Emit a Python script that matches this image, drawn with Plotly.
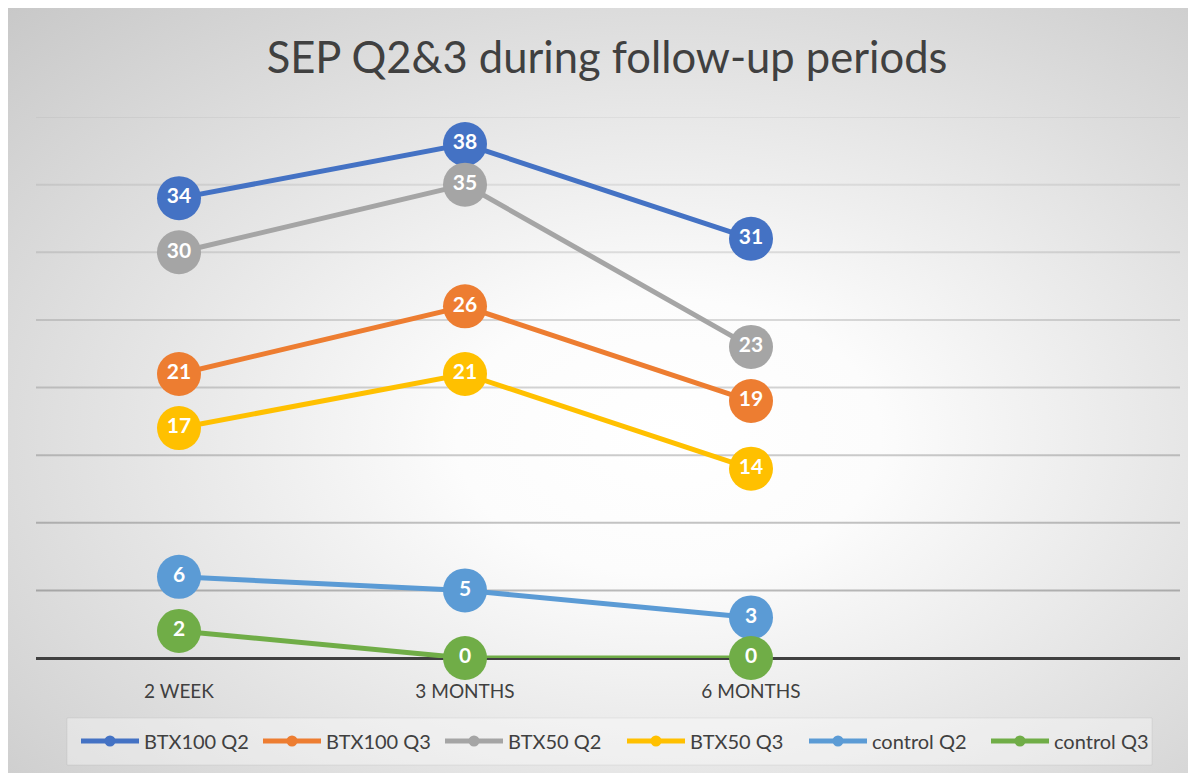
import base64
import plotly.graph_objects as go

# ---- data ----
categories = ["2 WEEK", "3 MONTHS", "6 MONTHS"]
series_names = ["BTX100 Q2", "BTX100 Q3", "BTX50 Q2", "BTX50 Q3", "control Q2", "control Q3"]
btx100_q2 = [34, 38, 31]
btx100_q3 = [21, 26, 19]
btx50_q2 = [30, 35, 23]
btx50_q3 = [17, 21, 14]
control_q2 = [6, 5, 3]
control_q3 = [2, 0, 0]
grid_values = [5, 10, 15, 20, 25, 30, 35, 40]
title_text = "SEP Q2&3 during follow-up periods"

series_values = [btx100_q2, btx100_q3, btx50_q2, btx50_q3, control_q2, control_q3]
colors = ["#4472C4", "#ED7D31", "#A5A5A5", "#FFC000", "#5B9BD5", "#70AD47"]

# page has an 8px body margin; figure origin sits at (8, 8) of the window
OFF = 8
W, H = 1196 - OFF, 773 - OFF
L, T = 36 - OFF, 117 - OFF
R = W - (1180 - OFF)
B = H - (658 - OFF)
PW, PH = W - L - R, H - T - B

def px_x(p):  # window pixel -> paper x
    return (p - OFF - L) / PW

def px_y(q):  # window pixel -> paper y
    return (H - B - (q - OFF)) / PH

fig = go.Figure()

for name, vals, col in zip(series_names, series_values, colors):
    fig.add_trace(go.Scatter(
        x=categories, y=vals, mode="lines+markers+text", name=name,
        line=dict(color=col, width=5),
        marker=dict(size=44, color=col),
        text=[str(v) for v in vals], textposition="middle center",
        textfont=dict(family="Lato", size=21, color="white", weight="bold"),
        showlegend=False, hoverinfo="skip", cliponaxis=False,
    ))

# legend entries
for name, col in zip(series_names, colors):
    fig.add_trace(go.Scatter(
        x=[None], y=[None], mode="lines+markers", name=name,
        line=dict(color=col, width=5), marker=dict(size=11, color=col),
        showlegend=True,
    ))

# background radial gradient
svg = """<svg xmlns='http://www.w3.org/2000/svg' width='1200' height='800' viewBox='0 0 1200 800' preserveAspectRatio='none'>
<defs><radialGradient id='g' cx='0.55' cy='0.55' r='0.8' gradientUnits='objectBoundingBox'>
<stop offset='0' stop-color='#ffffff'/><stop offset='0.22' stop-color='#fcfcfc'/>
<stop offset='1' stop-color='#c6c6c6'/></radialGradient></defs>
<rect x='0' y='0' width='1200' height='800' fill='url(#g)'/></svg>"""
uri = "data:image/svg+xml;base64," + base64.b64encode(svg.encode()).decode()

fig.add_layout_image(dict(
    source=uri, xref="paper", yref="paper",
    x=px_x(7), y=px_y(6), sizex=(1210 - 7) / PW, sizey=(790 - 6) / PH,
    xanchor="left", yanchor="top", sizing="stretch", layer="below",
))

# chart border
fig.add_shape(type="rect", xref="paper", yref="paper",
              x0=px_x(7), x1=px_x(1230), y0=px_y(800), y1=px_y(6),
              line=dict(color="#cfcfcf", width=2), fillcolor="rgba(0,0,0,0)", layer="below")

# legend box
fig.add_shape(type="rect", xref="paper", yref="paper",
              x0=px_x(67), x1=px_x(1152), y0=px_y(765), y1=px_y(718),
              line=dict(color="rgba(0,0,0,0.06)", width=1), fillcolor="rgba(255,255,255,0.35)",
              layer="below")

# gridlines (lighter near top, darker near bottom)
for v in grid_values:
    a = 0.38 - (v - 5) / 35 * 0.31
    fig.add_shape(type="line", xref="paper", yref="y", x0=0, x1=1, y0=v, y1=v,
                  line=dict(color=f"rgba(80,80,80,{a:.3f})", width=2), layer="below")

fig.update_layout(
    width=W, height=H,
    margin=dict(l=L, r=R, t=T, b=B, autoexpand=False),
    paper_bgcolor="white", plot_bgcolor="rgba(0,0,0,0)",
    title=dict(text=title_text, x=px_x(607), xanchor="center", xref="paper",
               y=1 - (58 - OFF) / H, yanchor="middle", yref="container",
               font=dict(family="Lato", size=43.5, color="#404040")),
    font=dict(family="Lato", color="#404040"),
    legend=dict(orientation="h", x=px_x(622), xanchor="center", y=px_y(741), yanchor="middle",
                bgcolor="rgba(0,0,0,0)", borderwidth=0,
                font=dict(family="Lato", size=20, color="#404040"),
                itemwidth=58, entrywidth=109, entrywidthmode="pixels", tracegroupgap=0),
    showlegend=True,
)
fig.update_xaxes(type="category", categoryorder="array", categoryarray=categories,
                 range=[-0.5, 3.5], showgrid=False, zeroline=False, showline=False,
                 ticks="", ticklabelstandoff=20,
                 tickfont=dict(family="Lato", size=19, color="#404040"))
fig.update_yaxes(range=[0, 40], showgrid=False, showticklabels=False, zeroline=True,
                 zerolinecolor="#404040", zerolinewidth=3, showline=False, ticks="")

fig.write_html("out.html")
